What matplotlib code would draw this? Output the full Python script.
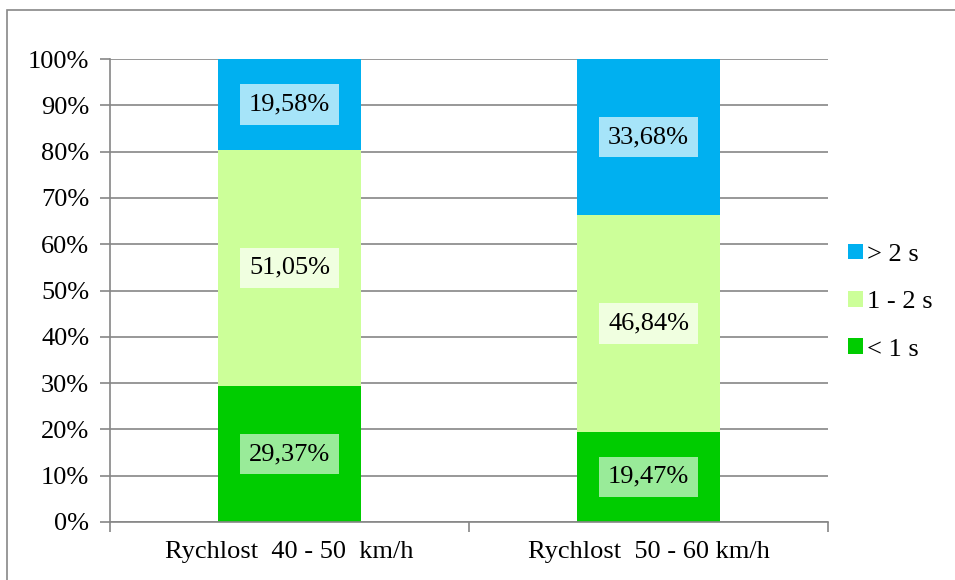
import matplotlib.pyplot as plt
import matplotlib.patches as patches
import numpy as np

plt.rcParams['font.family'] = ['Liberation Serif', 'DejaVu Serif']

categories = ['Rychlost  40 - 50  km/h', 'Rychlost  50 - 60 km/h']
series_names = ['< 1 s', '1 - 2 s', '> 2 s']
values = {
    '< 1 s': [29.37, 19.47],
    '1 - 2 s': [51.05, 46.84],
    '> 2 s': [19.58, 33.68],
}
colors = {'< 1 s': '#00CC00', '1 - 2 s': '#CCFF99', '> 2 s': '#00B0F0'}
label_bg = {'< 1 s': '#99EB99', '1 - 2 s': '#F0FFE0', '> 2 s': '#A6E4F9'}

fig = plt.figure(figsize=(9.55, 5.8), dpi=100)
# outer chart border
fig.patches.append(patches.Rectangle((7 / 955, -0.1), 1.0, 1.1 - 10 / 580,
                                     transform=fig.transFigure, fill=False,
                                     edgecolor='#888888', linewidth=1.2))
ax = fig.add_axes([110 / 955, 1 - 522 / 580, 718 / 955, 463 / 580])

gray = '#868686'
fs = 19
x = np.arange(len(categories))
bottom = np.zeros(len(categories))
handles = {}
for name in series_names:
    vals = np.array(values[name])
    b = ax.bar(x, vals, 0.4, bottom=bottom, color=colors[name], label=name, zorder=2)
    handles[name] = b
    for xi, v, bt in zip(x, vals, bottom):
        ax.text(xi, bt + v / 2, f'{v:.2f}%'.replace('.', ','), ha='center', va='center',
                fontsize=fs, zorder=3,
                bbox=dict(boxstyle='square,pad=0.35', facecolor=label_bg[name],
                          edgecolor='none'))
    bottom += vals

ax.set_xlim(-0.5, 1.5)
ax.set_ylim(0, 100)
ax.set_yticks(np.arange(0, 101, 10))
ax.set_yticklabels([f'{t}%' for t in range(0, 101, 10)], fontsize=fs)
ax.yaxis.grid(True, color=gray, linewidth=1.2, zorder=0)
ax.set_axisbelow(True)

ax.set_xticks([-0.5, 0.5, 1.5])
ax.set_xticklabels([])
ax.set_xticks(x, minor=True)
ax.set_xticklabels(categories, minor=True, fontsize=fs)
ax.tick_params(axis='x', which='minor', length=0, pad=14)
ax.tick_params(axis='x', which='major', length=7, width=1.2, color=gray)
ax.tick_params(axis='y', length=7, width=1.2, color=gray, pad=8)

for s in ['top', 'right']:
    ax.spines[s].set_visible(False)
for s in ['left', 'bottom']:
    ax.spines[s].set_color(gray)
    ax.spines[s].set_linewidth(1.2)

ax.legend([handles[n] for n in reversed(series_names)], list(reversed(series_names)),
          loc='center left', bbox_to_anchor=(0.995, 0.475), frameon=False, fontsize=fs,
          handlelength=0.55, handleheight=0.55, handletextpad=0.15, labelspacing=0.95)

fig.savefig('out.png', dpi=100)
